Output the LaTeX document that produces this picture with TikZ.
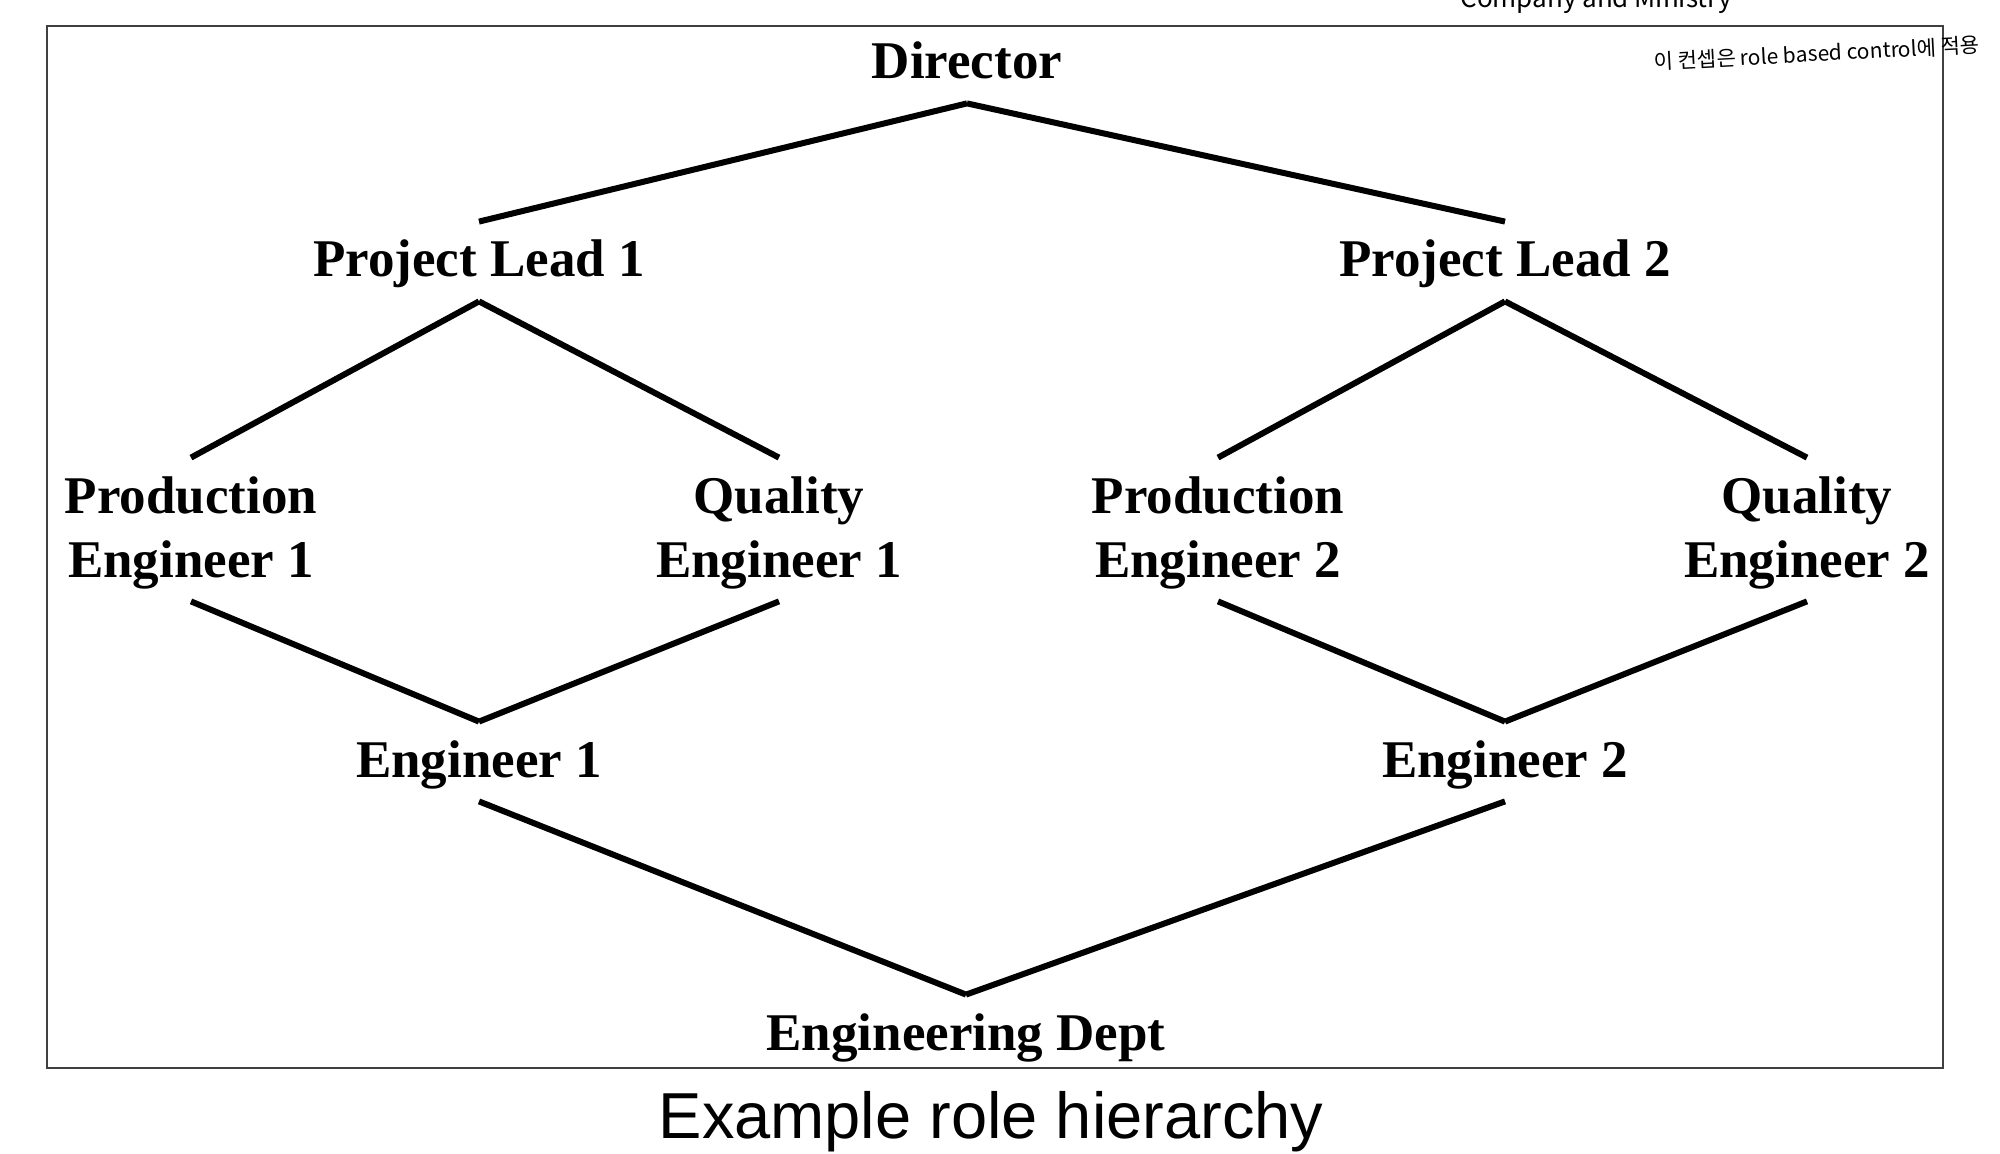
\documentclass[tikz,border=0pt]{standalone}
\usepackage{fontspec}
\setmainfont{Liberation Serif}
\newfontfamily\captionfont{Liberation Sans}
\newfontfamily\notefont{Noto Sans CJK KR}
\usetikzlibrary{positioning}

\tikzset{
    role/.style={font=\fontsize{26.5}{32}\selectfont\bfseries, align=center,
                 inner xsep=0pt, inner ysep=9pt, text height=18.5pt, text depth=3pt, anchor=base},
    tworole/.style={role, text height=50.5pt},
    link/.style={line width=3pt},
}

\begin{document}
\begin{tikzpicture}[x=0.5pt,y=-0.5pt]
    \useasboundingbox (0,0) rectangle (2000,1154);
    \draw[line width=1pt, draw=black!75] (47,26) rectangle (1943,1068);

    \node[role] (dir)  at (967,79)   {Director};
    \node[role] (pl1)  at (479,277)  {Project Lead 1};
    \node[role] (pl2)  at (1505,277) {Project Lead 2};
    \node[tworole] (pe1)  at (191,577)  {Production\\Engineer 1};
    \node[tworole] (qe1)  at (779,577)  {Quality\\Engineer 1};
    \node[tworole] (pe2)  at (1218,577) {Production\\Engineer 2};
    \node[tworole] (qe2)  at (1807,577) {Quality\\Engineer 2};
    \node[role] (eng1) at (479,777)  {Engineer 1};
    \node[role] (eng2) at (1505,777) {Engineer 2};
    \node[role] (dept) at (966,1050) {Engineering Dept};

    \draw[link]
        (dir.south) -- (pl1.north)
        (dir.south) -- (pl2.north)
        (pl1.south) -- (pe1.north)
        (pl1.south) -- (qe1.north)
        (pl2.south) -- (pe2.north)
        (pl2.south) -- (qe2.north)
        (pe1.south) -- (eng1.north)
        (qe1.south) -- (eng1.north)
        (pe2.south) -- (eng2.north)
        (qe2.south) -- (eng2.north)
        (eng1.south) -- (dept.north)
        (eng2.south) -- (dept.north);

    \node[font=\captionfont\fontsize{32.5}{39}\selectfont, anchor=base] (caption) at (991,1138)
                        {Example role hierarchy};
    \node[font=\notefont\fontsize{10.5}{12}\selectfont, anchor=base west, rotate=3, inner sep=0pt] (note)
                        at (1654,70) {이 컨셉은 role based control에 적용};
    \node[font=\notefont\fontsize{13}{15}\selectfont, anchor=base west, inner sep=0pt] (remark)
                        at (1460,8) {Company and Ministry};
\end{tikzpicture}
\end{document}
